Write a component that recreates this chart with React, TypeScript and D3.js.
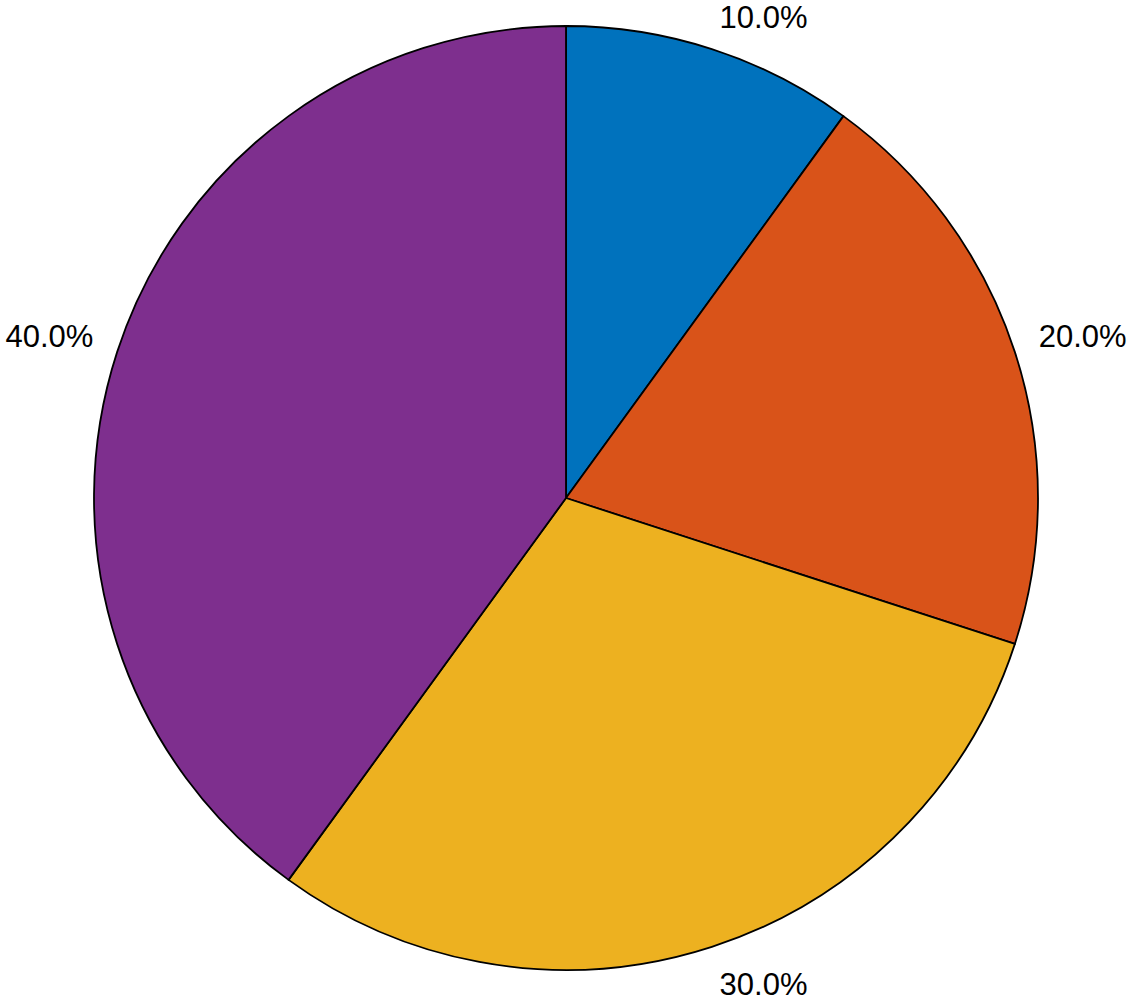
import React from "react";
import * as d3 from "d3";

const categories = ["A", "B", "C", "D"];
const values = [10, 20, 30, 40];
const labels = ["10.0%", "20.0%", "30.0%", "40.0%"];
const colors = ["#0072BD", "#D95319", "#EDB120", "#7E2F8E"];

const W = 1131;
const H = 999;
const cx = 566;
const cy = 498;
const R = 472;
const LABEL_GAP = 25;
const FONT = 31;
const CAP = FONT * 0.716;
const SHIFT = 2.5;

export default function App() {
  const pie = d3.pie<number>().sort(null).value((d) => d)(values);
  const arc = d3.arc<d3.PieArcDatum<number>>().innerRadius(0).outerRadius(R);
  return (
    <svg
      width={W}
      height={H}
      style={{ position: "absolute", left: 0, top: 0, background: "#fff" }}
    >
      <g transform={`translate(${cx},${cy})`}>
        {pie.map((p, i) => (
          <path
            key={categories[i]}
            d={arc(p) || ""}
            fill={colors[i]}
            stroke="#000"
            strokeWidth={1.8}
            strokeLinejoin="round"
          />
        ))}
        {pie.map((p, i) => {
          const a = (p.startAngle + p.endAngle) / 2;
          const s = Math.sin(a);
          const c = Math.cos(a);
          const px = s * (R + LABEL_GAP);
          const py = -c * (R + LABEL_GAP);
          const anchor = s >= 0 ? "start" : "end";
          const y = (c >= 0 ? py : py + CAP) + SHIFT;
          return (
            <text
              key={"l" + i}
              x={px}
              y={y}
              textAnchor={anchor}
              fontFamily="'Liberation Sans', Arial, Helvetica, sans-serif"
              fontSize={FONT}
              fill="#000"
            >
              {labels[i]}
            </text>
          );
        })}
      </g>
    </svg>
  );
}
